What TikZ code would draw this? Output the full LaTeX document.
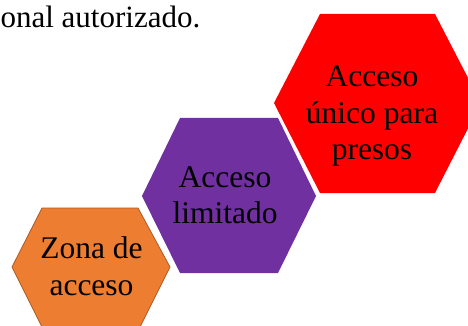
\documentclass[tikz,border=0pt]{standalone}
\usepackage{fontspec}
\setmainfont{Liberation Serif}
\definecolor{hexorange}{HTML}{ED7D31}
\definecolor{hexorangeline}{HTML}{AE5A21}
\definecolor{hexpurple}{HTML}{7030A0}
\definecolor{hexred}{HTML}{FF0000}
\begin{document}
\begin{tikzpicture}[x=1pt,y=-1pt,
  lbl/.style={font=\fontsize{31.5}{36}\selectfont, anchor=base, inner sep=0pt, text=black},
  hexshape/.style={line width=0.8pt, line join=miter}]
\useasboundingbox (0,0) rectangle (468,326);
\clip (0,0) rectangle (468,326);
% hexagons
\filldraw[hexshape, fill=hexorange, draw=hexorangeline]
  (42,208) -- (138,208) -- (170,267) -- (140,327) -- (42,327) -- (12,267) -- cycle;
\fill[hexshape, fill=hexpurple]
  (180,118) -- (278,118) -- (316,196) -- (278,273) -- (180,273) -- (142,196) -- cycle;
\fill[hexshape, fill=hexred]
  (320,14) -- (435,14) -- (481,103) -- (435,193) -- (320,193) -- (274,103) -- cycle;
% texts
\node[lbl, anchor=base east, font=\fontsize{31}{36}\selectfont] (top) at (200.5,28) {onal autorizado.};
\node[lbl] (o1) at (91.5,258) {Zona de};
\node[lbl] (o2) at (91.5,295) {acceso};
\node[lbl] (p1) at (225,187) {Acceso};
\node[lbl] (p2) at (225,223) {limitado};
\node[lbl] (r1) at (372,87) {Acceso};
\node[lbl] (r2) at (372,124) {único para};
\node[lbl] (r3) at (372,159) {presos};
\end{tikzpicture}
\end{document}
